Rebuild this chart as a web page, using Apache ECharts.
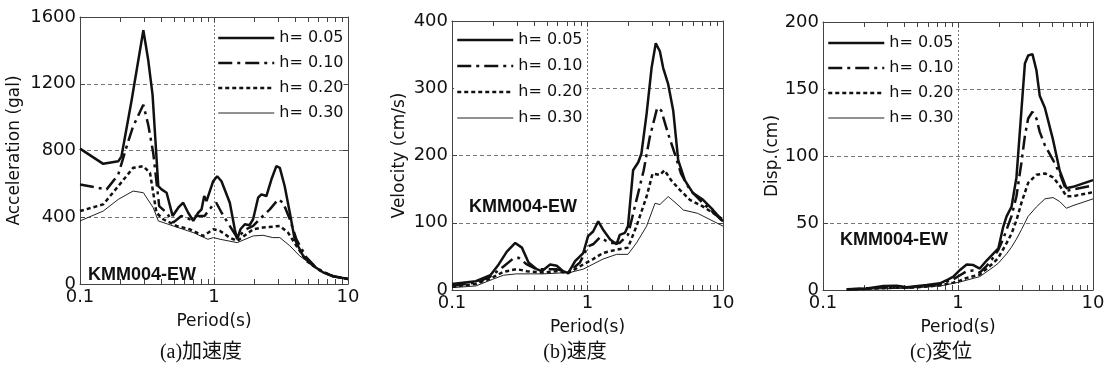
<!DOCTYPE html>
<html>
<head>
<meta charset="utf-8">
<script src="https://cdn.jsdelivr.net/npm/echarts@6/dist/echarts.min.js"></script>
<style>
  html, body { margin: 0; padding: 0; background: #fff; }
  #chart { width: 1109px; height: 381px; }
</style>
</head>
<body>
<div id="chart"></div>
<script>
// damping labels shared by the three panels
const dampingLabels = ["h= 0.05", "h= 0.10", "h= 0.20", "h= 0.30"];
const minorTickPeriods = [0.2, 0.3, 0.4, 0.5, 0.6, 0.7, 0.8, 0.9, 2, 3, 4, 5, 6, 7, 8, 9];

// (a) acceleration, [period s, gal]
const acc005 = [[0.1,811],[0.149,720],[0.193,735],[0.204,765],[0.243,1103],[0.297,1521],[0.323,1342],[0.348,1133],[0.384,586],[0.406,567],[0.443,547],[0.491,408],[0.541,457],[0.589,487],[0.642,427],[0.70,378],[0.762,427],[0.807,447],[0.845,527],[0.879,497],[0.931,557],[0.986,616],[1.056,646],[1.137,616],[1.312,487],[1.429,328],[1.489,268],[1.575,328],[1.698,358],[1.84,352],[1.958,388],[2.134,517],[2.26,537],[2.46,527],[2.68,626],[2.92,706],[3.10,696],[3.37,586],[3.68,427],[4.00,268],[4.62,169],[5.49,109],[6.51,70],[7.73,46],[10,30]];
const acc010 = [[0.1,596],[0.158,567],[0.193,656],[0.223,825],[0.249,944],[0.297,1074],[0.323,954],[0.352,785],[0.39,467],[0.443,427],[0.496,368],[0.57,408],[0.66,388],[0.74,408],[0.85,408],[0.99,477],[1.04,487],[1.14,427],[1.31,348],[1.49,278],[1.74,328],[1.96,348],[2.32,408],[2.61,447],[3.01,507],[3.28,487],[3.68,388],[4.12,268],[4.89,159],[5.6,110],[6.51,72],[7.73,47],[10,30]];
const acc020 = [[0.1,437],[0.149,477],[0.193,586],[0.249,696],[0.297,706],[0.333,666],[0.372,427],[0.418,388],[0.525,348],[0.66,328],[0.83,288],[0.99,328],[1.11,318],[1.31,278],[1.49,258],[1.96,328],[2.32,338],[3.10,348],[3.57,308],[4.12,229],[4.89,139],[6.2,80],[7.73,47],[10,30]];
const acc030 = [[0.1,378],[0.149,437],[0.193,507],[0.249,557],[0.297,547],[0.352,457],[0.384,378],[0.496,348],[0.70,308],[0.90,268],[0.99,278],[1.11,268],[1.49,248],[1.96,288],[2.32,292],[2.75,278],[3.10,278],[3.68,229],[4.35,169],[5.49,109],[6.9,60],[10,30]];

// (b) velocity, [period s, cm/s]
const vel005 = [[0.1,9],[0.15,13],[0.192,22],[0.221,38],[0.254,57],[0.293,70],[0.328,63],[0.367,41],[0.422,31],[0.46,28],[0.53,38],[0.593,36],[0.66,28],[0.72,25],[0.81,43],[0.93,55],[1.01,80],[1.1,87],[1.2,102],[1.3,90],[1.47,75],[1.64,68],[1.73,82],[1.89,85],[1.99,95],[2.17,178],[2.37,190],[2.5,203],[2.73,262],[2.97,330],[3.19,367],[3.42,355],[3.62,330],[3.94,306],[4.29,267],[4.67,193],[5.23,163],[6.01,144],[7.13,134],[8.44,119],[10,102]];
const vel010 = [[0.1,6],[0.15,11],[0.192,20],[0.24,35],[0.284,47],[0.31,48],[0.357,38],[0.42,31],[0.59,31],[0.72,26],[0.88,41],[1.01,65],[1.1,68],[1.23,78],[1.47,70],[1.73,70],[1.99,82],[2.3,134],[2.6,178],[2.88,227],[3.27,271],[3.5,267],[3.94,232],[4.4,203],[4.9,173],[5.7,149],[7.13,129],[10,102]];
const vel020 = [[0.1,5],[0.15,9],[0.192,17],[0.24,27],[0.3,31],[0.357,28],[0.47,26],[0.59,28],[0.72,25],[0.93,38],[1.1,46],[1.3,55],[1.64,60],[1.99,63],[2.3,95],[2.73,139],[3.02,173],[3.42,171],[3.7,178],[4.15,163],[4.8,149],[5.7,134],[7.13,124],[10,105]];
const vel030 = [[0.1,3.5],[0.15,6],[0.2,16],[0.24,22],[0.3,24],[0.47,24],[0.74,26],[0.93,31],[1.04,36],[1.3,46],[1.64,53],[1.99,53],[2.3,70],[2.73,95],[3.15,129],[3.42,127],[3.94,139],[4.5,129],[5.1,119],[6.5,114],[10,95]];

// (c) displacement, [period s, cm]
const disp005 = [[0.15,0.5],[0.211,1.2],[0.281,3],[0.352,3.2],[0.418,2],[0.587,3.7],[0.736,5],[0.848,8],[0.924,10],[1.035,15],[1.16,19],[1.3,18.6],[1.45,16],[1.63,22],[1.82,27],[1.99,31],[2.16,47],[2.29,55],[2.49,62],[2.71,84],[2.95,134],[3.13,169],[3.31,175],[3.56,176],[3.81,164],[4.03,145],[4.4,136],[5.06,112],[5.67,89],[6.35,76],[7.11,77],[10,82]];
const disp010 = [[0.15,0.4],[0.281,2],[0.418,1.8],[0.587,3],[0.736,4.5],[0.924,8],[1.035,11],[1.16,14],[1.3,14.5],[1.45,13],[1.63,18],[1.82,24],[1.99,30],[2.16,38],[2.29,45],[2.49,55],[2.71,70],[2.95,95],[3.13,115],[3.31,128],[3.56,133],[3.81,128],[4.03,118],[4.4,108],[5.06,97],[5.67,87],[6.35,74],[7.11,75],[10,78]];
const disp020 = [[0.15,0.3],[0.3,1.5],[0.5,2],[0.736,3.5],[0.924,5.5],[1.035,7],[1.16,9],[1.45,11.5],[1.82,20],[1.99,24],[2.29,35],[2.49,42],[2.71,52],[2.95,65],[3.31,80],[3.81,86],[4.4,87],[5.06,84],[5.67,78],[6.35,70],[7.11,70],[10,73]];
const disp030 = [[0.15,0.2],[0.3,1],[0.5,1.8],[0.736,3],[1.035,6],[1.45,10],[1.82,17],[1.99,20],[2.29,27],[2.49,32],[2.71,38],[2.95,45],[3.31,55],[3.81,62],[4.4,68],[5.06,69],[5.67,66],[6.35,61],[7.11,63],[10,68]];

const yMaxes = [1600, 400, 200];
const yIntervals = [400, 100, 50];
const yNames = ["Acceleration (gal)", "Velocity (cm/s)", "Disp.(cm)"];
const captions = ["(a)加速度", "(b)速度", "(c)変位"];
const stationLabel = "KMM004-EW";

// layout per panel
const panels = [
  { data: [acc005, acc010, acc020, acc030], grid: { left: 80, top: 17, width: 268, height: 267 },
    nameGap: 57, legend: { left: 215, top: 28, gap: 9 }, tag: [142, 275], cap: 201 },
  { data: [vel005, vel010, vel020, vel030], grid: { left: 452, top: 21, width: 271, height: 269 },
    nameGap: 44, legend: { left: 454, top: 30, gap: 10 }, tag: [523, 207], cap: 575 },
  { data: [disp005, disp010, disp020, disp030], grid: { left: 823, top: 22, width: 270, height: 268 },
    nameGap: 40, legend: { left: 825, top: 33, gap: 9 }, tag: [894, 240], cap: 941 },
];

const lineStyles = [
  { color: "#111", width: 2.5, type: "solid" },
  { color: "#111", width: 2.5, type: [14, 5, 3, 5] },
  { color: "#111", width: 2.5, type: [4, 3] },
  { color: "#222", width: 1, type: "solid" },
];

const axisColor = "#444";
const labelFont = { fontFamily: "DejaVu Sans", fontSize: 18, color: "#111" };

const option = { animation: false, grid: [], xAxis: [], yAxis: [], series: [], legend: [], graphic: [] };

panels.forEach((p, i) => {
  option.grid.push(p.grid);

  // bottom log axis
  option.xAxis.push({
    type: "log", logBase: 10, min: 0.1, max: 10, gridIndex: i, position: "bottom",
    name: "Period(s)", nameLocation: "middle", nameGap: 29,
    nameTextStyle: { fontFamily: "DejaVu Sans", fontSize: 17, color: "#111" },
    axisLine: { show: true, onZero: false, lineStyle: { color: axisColor, width: 1 } },
    axisTick: { show: true, inside: true, length: 5, lineStyle: { color: axisColor } },
    axisLabel: { ...labelFont, margin: 4 },
    splitLine: { show: true, lineStyle: { color: "#777", type: [2, 2], width: 1 } },
  });
  // top mirror axis
  option.xAxis.push({
    type: "log", logBase: 10, min: 0.1, max: 10, gridIndex: i, position: "top",
    axisLine: { show: true, onZero: false, lineStyle: { color: axisColor, width: 1 } },
    axisTick: { show: true, inside: true, length: 5, lineStyle: { color: axisColor } },
    axisLabel: { show: false }, splitLine: { show: false },
  });
  option.yAxis.push({
    type: "value", min: 0, max: yMaxes[i], interval: yIntervals[i], gridIndex: i, position: "left",
    name: yNames[i], nameLocation: "middle", nameGap: p.nameGap,
    nameTextStyle: { fontFamily: "DejaVu Sans", fontSize: 17, color: "#111" },
    axisLine: { show: true, onZero: false, lineStyle: { color: axisColor, width: 1 } },
    axisTick: { show: true, inside: true, length: 5, lineStyle: { color: axisColor } },
    axisLabel: { ...labelFont, margin: 4, formatter: (v) => String(v) },
    splitLine: { show: true, lineStyle: { color: "#777", type: [4, 3], width: 1 } },
  });
  option.yAxis.push({
    type: "value", min: 0, max: yMaxes[i], interval: yIntervals[i], gridIndex: i, position: "right",
    axisLine: { show: true, onZero: false, lineStyle: { color: axisColor, width: 1 } },
    axisTick: { show: true, inside: true, length: 5, lineStyle: { color: axisColor } },
    axisLabel: { show: false }, splitLine: { show: false },
  });

  p.data.forEach((d, k) => {
    option.series.push({
      type: "line", name: dampingLabels[k], xAxisIndex: i * 2, yAxisIndex: i * 2,
      data: d, symbol: "none", showSymbol: false, lineStyle: lineStyles[k],
      itemStyle: { color: lineStyles[k].color },
      clip: true, silent: true, z: 3 + (3 - k),
    });
  });

  // minor ticks of the log axis, bottom and top
  option.series.push({
    type: "custom", xAxisIndex: i * 2, yAxisIndex: i * 2, silent: true, clip: false,
    data: minorTickPeriods.map((v) => [v, 0]),
    encode: { x: 0, y: 1 },
    renderItem: (params, api) => {
      const cs = params.coordSys;
      const x = Math.round(api.coord([api.value(0), 0])[0]) + 0.5;
      const st = { stroke: axisColor, lineWidth: 1 };
      return {
        type: "group",
        children: [
          { type: "line", shape: { x1: x, y1: cs.y + cs.height, x2: x, y2: cs.y + cs.height - 5 }, style: st },
          { type: "line", shape: { x1: x, y1: cs.y, x2: x, y2: cs.y + 5 }, style: st },
        ],
      };
    },
  });

  option.legend.push({
    orient: "vertical", left: p.legend.left, top: p.legend.top,
    itemWidth: 56, itemHeight: 14, itemGap: p.legend.gap,
    backgroundColor: "#fff", padding: [2, 0, 2, 2], selectedMode: false,
    textStyle: { fontFamily: "DejaVu Sans", fontSize: 16, color: "#111" },
    data: dampingLabels.map((n, k) => ({
      name: n,
      itemStyle: { opacity: 0 },
      lineStyle: { width: lineStyles[k].width, type: lineStyles[k].type, color: lineStyles[k].color, opacity: 1 },
    })),
  });

  option.graphic.push({
    type: "text", x: p.tag[0], y: p.tag[1], z: 10,
    style: { text: stationLabel, font: 'bold 18px "Liberation Sans"', fill: "#111", align: "center", verticalAlign: "middle" },
  });
  option.graphic.push({
    type: "text", x: p.cap, y: 353,
    style: { text: captions[i], font: '20px "Liberation Serif", "Noto Sans CJK JP"', fill: "#111", align: "center", verticalAlign: "middle" },
  });
});

const chart = echarts.init(document.getElementById("chart"), null, { renderer: "canvas" });
chart.setOption(option);
</script>
</body>
</html>
